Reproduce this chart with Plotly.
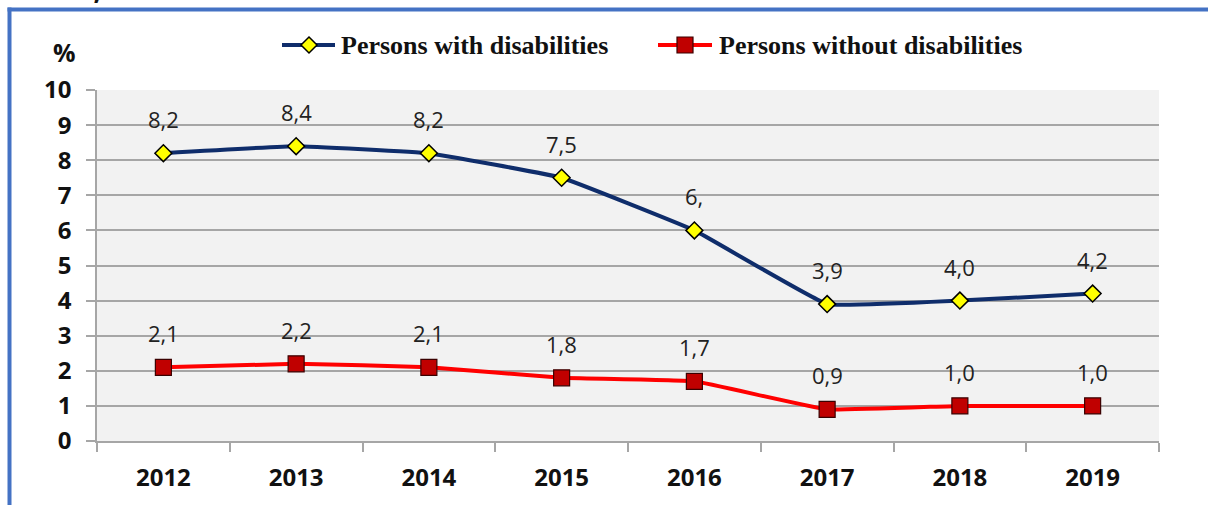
import plotly.graph_objects as go

# ---- data -------------------------------------------------------------
years = ["2012", "2013", "2014", "2015", "2016", "2017", "2018", "2019"]
with_dis = [8.2, 8.4, 8.2, 7.5, 6.0, 3.9, 4.0, 4.2]
with_dis_labels = ["8,2", "8,4", "8,2", "7,5", "6,", "3,9", "4,0", "4,2"]
without_dis = [2.1, 2.2, 2.1, 1.8, 1.7, 0.9, 1.0, 1.0]
without_dis_labels = ["2,1", "2,2", "2,1", "1,8", "1,7", "0,9", "1,0", "1,0"]
y_ticks = list(range(0, 11))
series_names = ["Persons with disabilities", "Persons without disabilities"]

# ---- geometry / style --------------------------------------------------
W, H = 1208, 505
ML, MR, MT, MB = 97, 49, 90, 64
PW, PH = W - ML - MR, H - MT - MB

BLUE = "#0f2d6b"
RED = "#ff0000"
SQ_FILL = "#c00000"
FRAME = "#4472c4"
GRID = "#a6a6a6"
SANS = "Open Sans"
SERIF = "Liberation Serif"


def px(x):
    return (x - ML) / PW


def py(y):
    return (H - MB - y) / PH


fig = go.Figure()

fig.add_trace(go.Scatter(
    x=years, y=with_dis, name=series_names[0], mode="lines+markers",
    line=dict(color=BLUE, width=4, shape="spline", smoothing=0.25),
    marker=dict(symbol="diamond", size=13, color="#ffff00",
                line=dict(color="#000000", width=1.5)),
    showlegend=False, cliponaxis=False,
))
fig.add_trace(go.Scatter(
    x=years, y=without_dis, name=series_names[1], mode="lines+markers",
    line=dict(color=RED, width=4, shape="spline", smoothing=0.25),
    marker=dict(symbol="square", size=16, color=SQ_FILL,
                line=dict(color="#3a0000", width=1.2)),
    showlegend=False, cliponaxis=False,
))

annotations = []
# value labels above each point (x given as category index)
for vals, labs in ((with_dis, with_dis_labels), (without_dis, without_dis_labels)):
    for i, (y, t) in enumerate(zip(vals, labs)):
        annotations.append(dict(
            x=i, y=y, xref="x", yref="y", text=t, showarrow=False,
            yshift=34, font=dict(family=SANS, size=22, color="#222222"),
        ))

# axis unit
annotations.append(dict(
    x=px(64), y=py(52), xref="paper", yref="paper", text="%",
    showarrow=False, xanchor="center", yanchor="middle",
    font=dict(family=SANS, size=25, color="#111111", weight="bold"),
))

# title line sitting above the frame
annotations.append(dict(
    x=px(4), y=py(9), xref="paper", yref="paper", text="status, EU-27",
    showarrow=False, xanchor="left", yanchor="bottom",
    font=dict(family=SANS, size=28, color="#111111", weight="bold"),
))

# legend built from shapes + text
shapes = []
legend_items = [
    (282, 335, 309, BLUE, "diamond", 339, series_names[0]),
    (658, 712, 685, RED, "square", 717, series_names[1]),
]
LEG_Y = 45
for x0, x1, xm, col, sym, tx, label in legend_items:
    shapes.append(dict(type="line", xref="paper", yref="paper",
                       x0=px(x0), x1=px(x1), y0=py(LEG_Y), y1=py(LEG_Y),
                       line=dict(color=col, width=4)))
    r = 8
    if sym == "diamond":
        path = (f"M{px(xm)},{py(LEG_Y - r)} L{px(xm + r)},{py(LEG_Y)} "
                f"L{px(xm)},{py(LEG_Y + r)} L{px(xm - r)},{py(LEG_Y)} Z")
        shapes.append(dict(type="path", xref="paper", yref="paper", path=path,
                           fillcolor="#ffff00", line=dict(color="#000000", width=1.5)))
    else:
        shapes.append(dict(type="rect", xref="paper", yref="paper",
                           x0=px(xm - r), x1=px(xm + r), y0=py(LEG_Y - r), y1=py(LEG_Y + r),
                           fillcolor=SQ_FILL, line=dict(color="#3a0000", width=1.2)))
    annotations.append(dict(
        x=px(tx), y=py(LEG_Y), xref="paper", yref="paper", text=label,
        showarrow=False, xanchor="left", yanchor="middle",
        font=dict(family=SERIF, size=26, color="#111111", weight="bold"),
    ))

# blue frame: left and top edges
shapes.append(dict(type="line", xref="paper", yref="paper",
                   x0=px(9.5), x1=px(9.5), y0=py(7.5), y1=py(H + 5),
                   line=dict(color=FRAME, width=4)))
shapes.append(dict(type="line", xref="paper", yref="paper",
                   x0=px(7.5), x1=px(W + 5), y0=py(9.5), y1=py(9.5),
                   line=dict(color=FRAME, width=4)))

fig.update_layout(
    width=W, height=H,
    margin=dict(l=ML, r=MR, t=MT, b=MB, pad=0),
    paper_bgcolor="#ffffff",
    plot_bgcolor="#f2f2f2",
    annotations=annotations,
    shapes=shapes,
    showlegend=False,
)

fig.update_xaxes(
    type="category", categoryorder="array", categoryarray=years,
    range=[-0.5, len(years) - 0.5],
    showgrid=False, showline=True, linecolor=GRID, linewidth=1.5,
    ticks="outside", tickson="boundaries", ticklen=9, tickcolor=GRID, tickwidth=1.5,
    ticklabelstandoff=14,
    tickfont=dict(family=SANS, size=24, color="#111111", weight="bold"),
    zeroline=False,
)
fig.update_yaxes(
    range=[0, 10], tickvals=y_ticks, ticktext=[str(v) for v in y_ticks],
    showgrid=True, gridcolor=GRID, gridwidth=1.5,
    showline=True, linecolor=GRID, linewidth=1.5,
    ticks="outside", ticklen=9, tickcolor=GRID, tickwidth=1.5,
    ticklabelstandoff=10,
    tickfont=dict(family=SANS, size=24, color="#111111", weight="bold"),
    zeroline=False,
)

fig.write_html("out.html")
